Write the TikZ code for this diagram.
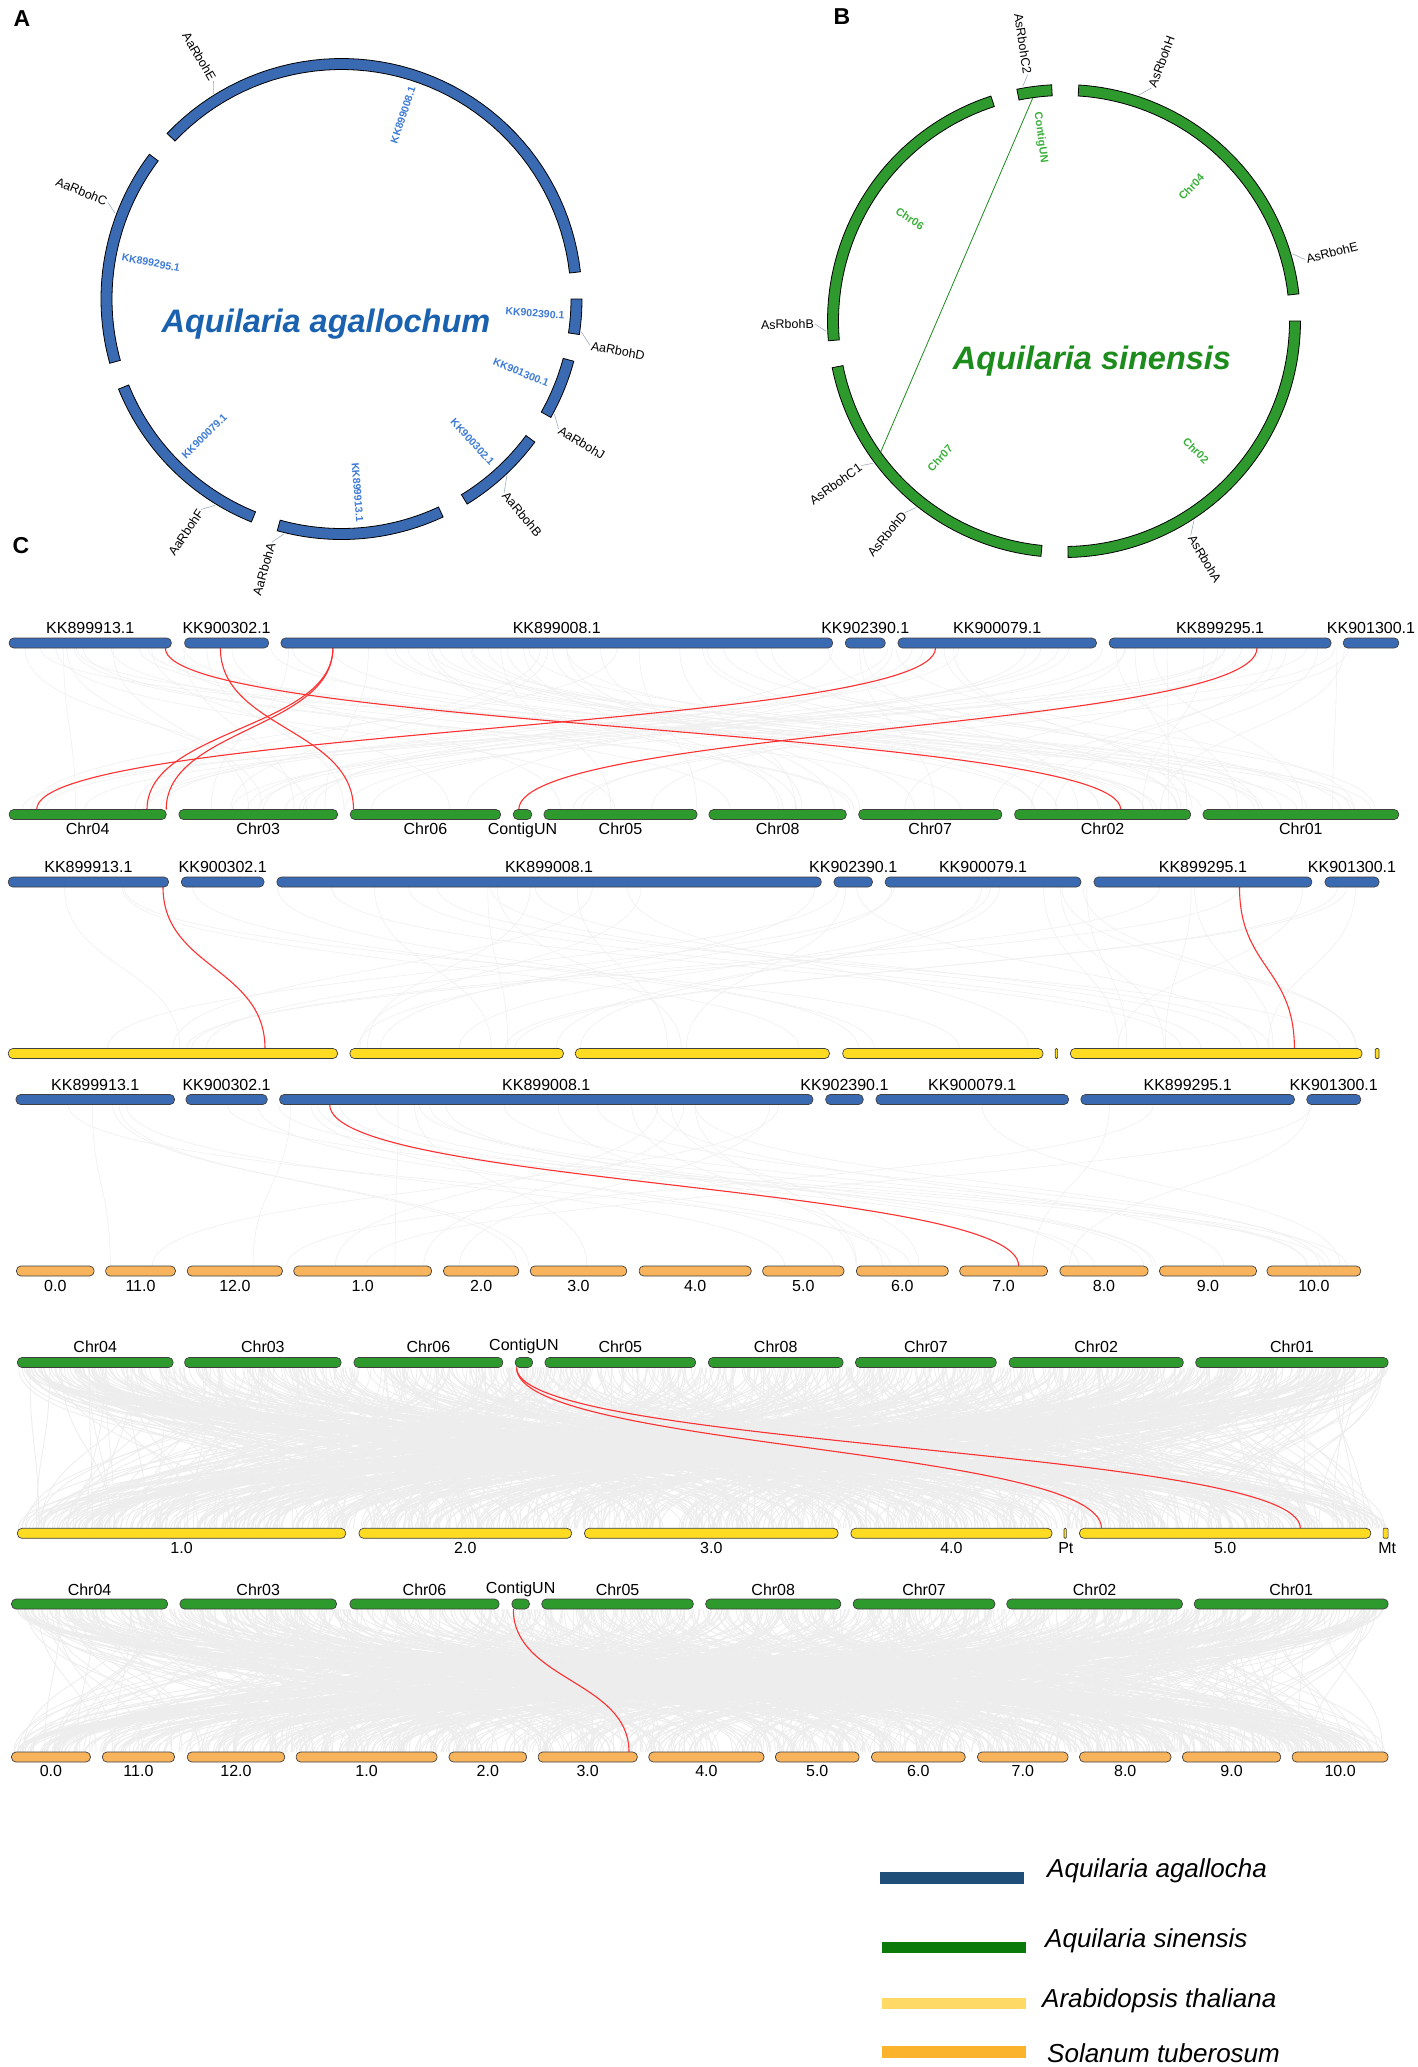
\documentclass[tikz,border=0pt]{standalone}
\usepackage{fontspec}
\setmainfont{Liberation Sans}
\usetikzlibrary{calc}
\definecolor{blueA}{HTML}{3A6AB2}
\definecolor{greenB}{HTML}{2E9A2E}
\definecolor{yellowC}{HTML}{FFDC22}
\definecolor{orangeC}{HTML}{F8B45C}
\definecolor{inblue}{HTML}{3E7BD6}
\definecolor{ingreen}{HTML}{3CB03C}
\definecolor{titblue}{HTML}{1A62B0}
\definecolor{titgreen}{HTML}{1C8C1C}
\definecolor{legblue}{HTML}{1F4E79}
\definecolor{leggreen}{HTML}{0A7A0A}
\definecolor{legyellow}{HTML}{FFD966}
\definecolor{legorange}{HTML}{FBB32B}
\definecolor{leadc}{HTML}{A0AEC0}
\definecolor{redlink}{HTML}{FF3030}
\newcommand\fs[1]{\fontsize{#1}{#1}\selectfont}
\tikzset{
  chrbase/.style={draw=black!75, line width=0.7pt, rounded corners=4.5pt, minimum height=10pt, inner sep=0pt, outer sep=0pt},
  chrA/.style={chrbase, fill=blueA},
  chrS/.style={chrbase, fill=greenB},
  chrT/.style={chrbase, fill=yellowC},
  chrO/.style={chrbase, fill=orangeC},
  chrTs/.style={chrT, rounded corners=1pt},
  clab/.style={font=\fs{16}, inner sep=0pt},
  bandA/.style={draw=black, line width=0.8pt, fill=blueA},
  bandB/.style={draw=black, line width=0.8pt, fill=greenB},
  glab/.style={font=\fs{12.5}, inner sep=1pt},
  leader/.style={draw=leadc, line width=0.6pt},
  inA/.style={font=\bfseries\fs{10.5}, text=inblue, inner sep=0pt},
  inB/.style={font=\bfseries\fs{11}, text=ingreen, inner sep=0pt},
  panel/.style={font=\bfseries\fs{23}, inner sep=0pt},
  titA/.style={font=\bfseries\itshape\fs{32.5}, text=titblue, inner sep=0pt},
  titB/.style={font=\bfseries\itshape\fs{32.5}, text=titgreen, inner sep=0pt},
  greylink/.style={draw=black!6, line width=0.6pt},
  denselink/.style={draw=black!7, line width=0.8pt},
  redl/.style={draw=redlink, line width=1.1pt},
  legtext/.style={font=\itshape\fs{26}, inner sep=0pt, anchor=base west},
}
\newcommand\chrbar[7]{%
  \node[#5, minimum width={(#3)-(#2)}] (#1) at ({((#2)+(#3))/2},#4) {};
  \node[clab] (#1l) at ({((#2)+(#3))/2},#7) {#6};
}
\newcommand\chrbarn[5]{%
  \node[#5, minimum width={(#3)-(#2)}] (#1) at ({((#2)+(#3))/2},#4) {};
}
\newcommand\rlink[5]{% name x1 y1 x2 y2
  \coordinate (#1a) at (#2,#3);
  \coordinate (#1b) at (#4,#5);
  \draw[redl] (#1a) .. controls +(0,{((#5)-(#3))/2}) and +(0,{-((#5)-(#3))/2}) .. (#1b);
}
\begin{document}
\begin{tikzpicture}[x=1pt,y=-1pt]
\useasboundingbox (0,0) rectangle (1417,2067);
\fill[white] (0,0) rectangle (1417,2067);

% ---------------- Panel A ----------------
\node[panel] (pA) at (22,19) {A};
\begin{scope}[shift={(341.5,299)}]
  \foreach \a/\b in {136.5/6.5, 0/-8.5, -15/-29.5, -36.5/-58.5, -65/-105.5, -112/-158, -164.5/-217}
    \draw[bandA] plot[domain=\a:\b, samples=50] ({240.5*cos(\x)},{-240.5*sin(\x)})
      -- plot[domain=\b:\a, samples=50] ({229.5*cos(\x)},{-229.5*sin(\x)}) -- cycle;
  \foreach \t/\p/\r [count=\i] in {KK899008.1/71.5/71.5, KK902390.1/-4.25/-4.25, KK901300.1/-22.25/-22.25, KK900302.1/-47.5/-47.5, KK899913.1/-85.25/-85.25, KK900079.1/-135/45, KK899295.1/169.25/-10.75}
    \node[inA, rotate=\r] (inA\i) at ({194*cos(\p)},{-194*sin(\p)}) {\t};
  \foreach \n/\g/\l/\r/\an in {AaRbohE/122/120.4/-59.6/east, AaRbohC/159.3/157.5/-22.5/east, AaRbohD/-7.8/-10.6/-10.6/west, AaRbohJ/-28.4/-30.9/-30.9/west, AaRbohB/-46.9/-50/-50/west, AaRbohA/-103.8/-106/74/east, AaRbohF/-121.5/-123.7/56.3/east}{
    \coordinate (g\n) at ({242*cos(\g)},{-242*sin(\g)});
    \node[glab, anchor=\an, rotate=\r] (t\n) at ({253*cos(\l)},{-253*sin(\l)}) {\n};
    \draw[leader] (g\n) -- (t\n.\an);
  }
\end{scope}
\node[titA] (titleA) at (326,324) {Aquilaria agallochum};

% ---------------- Panel B ----------------
\node[panel] (pB) at (842,17) {B};
\begin{scope}[shift={(1064,321)}]
  \foreach \a/\b in {101.5/93, 86.4/6.6, 0/-89, -95.6/-168.6, -175.2/-252}
    \draw[bandB] plot[domain=\a:\b, samples=50] ({236.5*cos(\x)},{-236.5*sin(\x)})
      -- plot[domain=\b:\a, samples=50] ({225.5*cos(\x)},{-225.5*sin(\x)}) -- cycle;
  \coordinate (cl1) at ({225*cos(98)},{-225*sin(98)});
  \coordinate (cl2) at ({225*cos(-144.5)},{-225*sin(-144.5)});
  \draw[draw=titgreen, line width=0.8pt] (cl1) -- (cl2);
  \foreach \t/\p/\r [count=\i] in {ContigUN/97.25/-82.75, Chr04/46.5/46.5, Chr06/146.4/-33.6, Chr07/-132.1/47.9, Chr02/-44.5/-44.5}
    \node[inB, rotate=\r] (inB\i) at ({185*cos(\p)},{-185*sin(\p)}) {\t};
  \foreach \n/\g/\l/\r/\an in {AsRbohC2/100/98.4/-81.6/east, AsRbohH/71.7/69.4/69.4/west, AsRbohE/16.4/14.3/14.3/west, AsRbohB/182.5/180.7/0.7/east, AsRbohC1/-143.3/-144.5/35.5/east, AsRbohD/-128.4/-129.7/50.3/east, AsRbohA/-56.9/-59.4/-59.4/west}{
    \coordinate (g\n) at ({238*cos(\g)},{-238*sin(\g)});
    \node[glab, anchor=\an, rotate=\r] (t\n) at ({249*cos(\l)},{-249*sin(\l)}) {\n};
    \draw[leader] (g\n) -- (t\n.\an);
  }
\end{scope}
\node[titB] (titleB) at (1092,361) {Aquilaria sinensis};

% ---------------- Panel C ----------------
\node[panel] (pC) at (21,546) {C};

% grey background links
\pgfmathsetseed{12}
\foreach \i in {1,...,90}{
  \pgfmathsetmacro\xa{10+1385*rnd}
  \pgfmathsetmacro\xb{10+1385*rnd}
  \draw[greylink] (\xa,648) .. controls (\xa,728.75) and (\xb,728.75) .. (\xb,809.5);
}
\foreach \i in {1,...,40}{
  \pgfmathsetmacro\xa{10+1370*rnd}
  \pgfmathsetmacro\xb{10+1370*rnd}
  \draw[greylink] (\xa,887) .. controls (\xa,967.75) and (\xb,967.75) .. (\xb,1048.5);
}
\foreach \i in {1,...,35}{
  \pgfmathsetmacro\xa{16+1345*rnd}
  \pgfmathsetmacro\xb{16+1345*rnd}
  \draw[greylink] (\xa,1104.5) .. controls (\xa,1185) and (\xb,1185) .. (\xb,1266);
}
\foreach \i in {1,...,900}{
  \pgfmathsetmacro\xa{17+1371*rnd}
  \pgfmathsetmacro\xb{17+1371*rnd}
  \draw[denselink] (\xa,1367.5) .. controls (\xa,1448) and (\xb,1448) .. (\xb,1528.3);
}
\foreach \i in {1,...,900}{
  \pgfmathsetmacro\xa{12+1376*rnd}
  \pgfmathsetmacro\xb{12+1376*rnd}
  \draw[denselink] (\xa,1609) .. controls (\xa,1680) and (\xb,1680) .. (\xb,1752);
}

% red links
\rlink{ra}{165.3}{648}{1120.7}{809.5}
\rlink{rb}{220.4}{648}{353.5}{809.5}
\rlink{rc}{332.9}{648}{147}{809.5}
\rlink{rd}{332.9}{648}{166.2}{809.5}
\rlink{re}{935.5}{648}{36.7}{809.5}
\rlink{rf}{1257}{648}{518.8}{809.5}
\rlink{rg}{163}{887}{265}{1048.5}
\rlink{rh}{1239.5}{887}{1294.4}{1048.5}
\rlink{ri}{329.7}{1104.5}{1018.7}{1266}
\rlink{rj}{516.5}{1367.5}{1101.5}{1528.3}
\rlink{rk}{516.5}{1367.5}{1300.4}{1528.3}
\rlink{rl}{513.3}{1609}{629}{1752}

% Row 1
\chrbar{a1}{9.2}{171.3}{643}{chrA}{KK899913.1}{628}
\chrbar{a2}{184.6}{268.6}{643}{chrA}{KK900302.1}{628}
\chrbar{a3}{281}{832.6}{643}{chrA}{KK899008.1}{628}
\chrbar{a4}{845.4}{885.2}{643}{chrA}{KK902390.1}{628}
\chrbar{a5}{898}{1096.4}{643}{chrA}{KK900079.1}{628}
\chrbar{a6}{1109.2}{1331}{643}{chrA}{KK899295.1}{628}
\chrbar{a7}{1343.3}{1398.7}{643}{chrA}{KK901300.1}{628}
% Row 2
\chrbar{b1}{9.2}{166.2}{814.5}{chrS}{Chr04}{829}
\chrbar{b2}{179}{337.5}{814.5}{chrS}{Chr03}{829}
\chrbar{b3}{350.3}{500.5}{814.5}{chrS}{Chr06}{829}
\chrbar{b4}{513.3}{531.7}{814.5}{chrS}{ContigUN}{830}
\chrbar{b5}{544}{697}{814.5}{chrS}{Chr05}{829}
\chrbar{b6}{709}{846.3}{814.5}{chrS}{Chr08}{829}
\chrbar{b7}{858.7}{1001.8}{814.5}{chrS}{Chr07}{829}
\chrbar{b8}{1014.6}{1190.6}{814.5}{chrS}{Chr02}{829}
\chrbar{b9}{1203}{1398.7}{814.5}{chrS}{Chr01}{829}
% Row 3
\chrbar{c1}{8.3}{168.5}{882}{chrA}{KK899913.1}{867}
\chrbar{c2}{181.4}{264}{882}{chrA}{KK900302.1}{867}
\chrbar{c3}{276.9}{821.2}{882}{chrA}{KK899008.1}{867}
\chrbar{c4}{834}{872.4}{882}{chrA}{KK902390.1}{867}
\chrbar{c5}{885.2}{1080.9}{882}{chrA}{KK900079.1}{867}
\chrbar{c6}{1094}{1311.8}{882}{chrA}{KK899295.1}{867}
\chrbar{c7}{1325}{1379}{882}{chrA}{KK901300.1}{867}
% Row 4
\chrbarn{d1}{8.3}{337.5}{1053.5}{chrT}
\chrbarn{d2}{349.9}{563.4}{1053.5}{chrT}
\chrbarn{d3}{575.3}{829.4}{1053.5}{chrT}
\chrbarn{d4}{842.7}{1043}{1053.5}{chrT}
\chrbarn{d5}{1055.3}{1057.6}{1053.5}{chrTs}
\chrbarn{d6}{1070.4}{1362}{1053.5}{chrT}
\chrbarn{d7}{1375.3}{1379}{1053.5}{chrTs}
% Row 5
\chrbar{e1}{16}{174.5}{1099.5}{chrA}{KK899913.1}{1085}
\chrbar{e2}{186}{267.2}{1099.5}{chrA}{KK900302.1}{1085}
\chrbar{e3}{279.6}{812.9}{1099.5}{chrA}{KK899008.1}{1085}
\chrbar{e4}{825.7}{863.2}{1099.5}{chrA}{KK902390.1}{1085}
\chrbar{e5}{876}{1068.5}{1099.5}{chrA}{KK900079.1}{1085}
\chrbar{e6}{1080.9}{1294.4}{1099.5}{chrA}{KK899295.1}{1085}
\chrbar{e7}{1306.8}{1360.7}{1099.5}{chrA}{KK901300.1}{1085}
% Row 6
\chrbar{f1}{16.5}{94.1}{1271}{chrO}{0.0}{1286}
\chrbar{f2}{105.6}{175.4}{1271}{chrO}{11.0}{1286}
\chrbar{f3}{187.3}{282.4}{1271}{chrO}{12.0}{1286}
\chrbar{f4}{293.8}{431.6}{1271}{chrO}{1.0}{1286}
\chrbar{f5}{443.5}{518.8}{1271}{chrO}{2.0}{1286}
\chrbar{f6}{530.3}{626.7}{1271}{chrO}{3.0}{1286}
\chrbar{f7}{639.1}{751.2}{1271}{chrO}{4.0}{1286}
\chrbar{f8}{762.6}{844}{1271}{chrO}{5.0}{1286}
\chrbar{f9}{856.4}{948.3}{1271}{chrO}{6.0}{1286}
\chrbar{f10}{959.7}{1047.5}{1271}{chrO}{7.0}{1286}
\chrbar{f11}{1059.9}{1148.1}{1271}{chrO}{8.0}{1286}
\chrbar{f12}{1159.5}{1256.5}{1271}{chrO}{9.0}{1286}
\chrbar{f13}{1267}{1360.7}{1271}{chrO}{10.0}{1286}
% Row 7
\chrbar{g1}{17.4}{173.1}{1362.5}{chrS}{Chr04}{1347}
\chrbar{g2}{184.6}{341.1}{1362.5}{chrS}{Chr03}{1347}
\chrbar{g3}{354}{502.8}{1362.5}{chrS}{Chr06}{1347}
\chrbar{g4}{515.2}{532.6}{1362.5}{chrS}{ContigUN}{1346}
\chrbar{g5}{545}{695.6}{1362.5}{chrS}{Chr05}{1347}
\chrbar{g6}{708.4}{843.1}{1362.5}{chrS}{Chr08}{1347}
\chrbar{g7}{855.5}{996.3}{1362.5}{chrS}{Chr07}{1347}
\chrbar{g8}{1009.1}{1183.3}{1362.5}{chrS}{Chr02}{1347}
\chrbar{g9}{1195.7}{1388.1}{1362.5}{chrS}{Chr01}{1347}
% Row 8
\chrbar{h1}{17.4}{345.7}{1533.3}{chrT}{1.0}{1548}
\chrbar{h2}{359}{571.6}{1533.3}{chrT}{2.0}{1548}
\chrbar{h3}{584.5}{838.1}{1533.3}{chrT}{3.0}{1548}
\chrbar{h4}{850.9}{1052}{1533.3}{chrT}{4.0}{1548}
\node[chrTs, minimum width=2.3] (h5) at (1065.2,1533.3) {};
\node[clab] (h5l) at (1065.8,1548) {Pt};
\chrbar{h6}{1079.5}{1370.8}{1533.3}{chrT}{5.0}{1548}
\node[chrTs, minimum width=5] (h7) at (1385.6,1533.3) {};
\node[clab] (h7l) at (1387.2,1548) {Mt};
% Row 9
\chrbar{i1}{11.5}{167.6}{1604}{chrS}{Chr04}{1590}
\chrbar{i2}{180}{336.5}{1604}{chrS}{Chr03}{1590}
\chrbar{i3}{349.9}{499.1}{1604}{chrS}{Chr06}{1590}
\chrbar{i4}{511.9}{529.4}{1604}{chrS}{ContigUN}{1589}
\chrbar{i5}{541.8}{693.3}{1604}{chrS}{Chr05}{1590}
\chrbar{i6}{705.7}{840.8}{1604}{chrS}{Chr08}{1590}
\chrbar{i7}{853.2}{994.9}{1604}{chrS}{Chr07}{1590}
\chrbar{i8}{1006.8}{1182.4}{1604}{chrS}{Chr02}{1590}
\chrbar{i9}{1194.3}{1388.1}{1604}{chrS}{Chr01}{1590}
% Row 10
\chrbar{j1}{11.5}{90.4}{1757}{chrO}{0.0}{1771}
\chrbar{j2}{102.4}{174.5}{1757}{chrO}{11.0}{1771}
\chrbar{j3}{187.3}{284.7}{1757}{chrO}{12.0}{1771}
\chrbar{j4}{296.1}{437.1}{1757}{chrO}{1.0}{1771}
\chrbar{j5}{449}{526.6}{1757}{chrO}{2.0}{1771}
\chrbar{j6}{538.1}{637.3}{1757}{chrO}{3.0}{1771}
\chrbar{j7}{648.8}{764}{1757}{chrO}{4.0}{1771}
\chrbar{j8}{775.4}{859.1}{1757}{chrO}{5.0}{1771}
\chrbar{j9}{871.5}{965.2}{1757}{chrO}{6.0}{1771}
\chrbar{j10}{977.5}{1068.1}{1757}{chrO}{7.0}{1771}
\chrbar{j11}{1079.5}{1171}{1757}{chrO}{8.0}{1771}
\chrbar{j12}{1182.4}{1280.7}{1757}{chrO}{9.0}{1771}
\chrbar{j13}{1292.1}{1388.1}{1757}{chrO}{10.0}{1771}

% ---------------- Legend ----------------
\fill[legblue] (879.7,1871.7) rectangle (1024.3,1884);
\node[legtext] (lg1) at (1047,1877) {Aquilaria agallocha};
\fill[leggreen] (881.5,1941.7) rectangle (1026,1953.3);
\node[legtext] (lg2) at (1045,1947) {Aquilaria sinensis};
\fill[legyellow] (881.5,1997.7) rectangle (1026,2009.3);
\node[legtext] (lg3) at (1042,2007) {Arabidopsis thaliana};
\fill[legorange] (881.5,2046) rectangle (1026,2057.7);
\node[legtext] (lg4) at (1047,2062) {Solanum tuberosum};
\end{tikzpicture}
\end{document}
